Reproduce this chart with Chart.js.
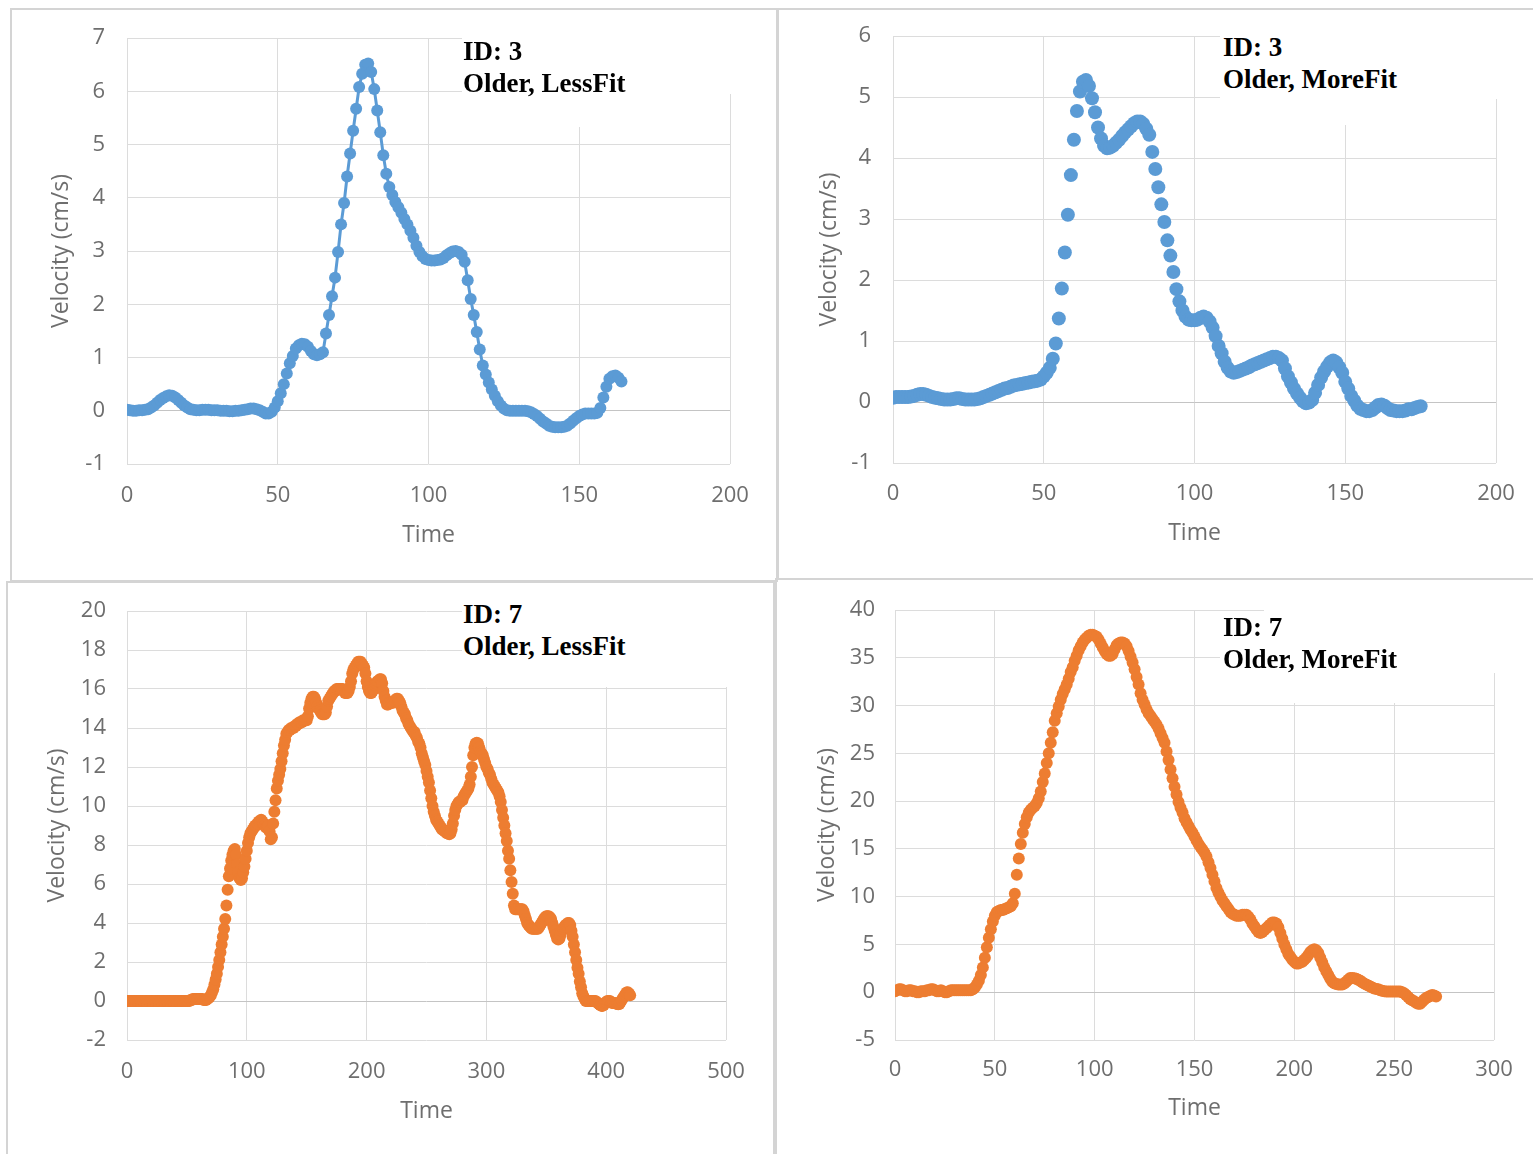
<!DOCTYPE html>
<html>
<head>
<meta charset="utf-8">
<script src="https://cdn.jsdelivr.net/npm/chart.js"></script>
<style>
  html, body { margin: 0; padding: 0; background: #fff; }
  body { position: relative; width: 1533px; height: 1154px; overflow: hidden; }
  .frame { position: absolute; box-sizing: border-box; border: 2px solid #d4d4d4; }
  canvas { position: absolute; }
  .mask { position: absolute; background: #fff; }
  .note { position: absolute; font: bold 27px/32px "Liberation Serif", "Times New Roman", serif; color: #000; white-space: nowrap; }
</style>
</head>
<body>
<div class="frame" style="left:10px;top:8px;width:768px;height:574px"></div>
<div class="frame" style="left:777px;top:8px;width:760px;height:572px"></div>
<div class="frame" style="left:6px;top:581px;width:769px;height:578px"></div>
<div class="frame" style="left:775px;top:578px;width:762px;height:582px"></div>

<canvas id="c1"></canvas>
<canvas id="c2"></canvas>
<canvas id="c3"></canvas>
<canvas id="c4"></canvas>

<div class="mask" style="left:462px;top:25px;width:140px;height:102px"></div>
<div class="mask" style="left:602px;top:25px;width:143px;height:69px"></div>
<div class="mask" style="left:1220px;top:22px;width:140px;height:103px"></div>
<div class="mask" style="left:1360px;top:22px;width:142px;height:77px"></div>
<div class="mask" style="left:462px;top:598px;width:278px;height:89px"></div>
<div class="mask" style="left:1220px;top:616px;width:200px;height:87px"></div>
<div class="mask" style="left:1264px;top:598px;width:240px;height:75px"></div>

<div class="note" style="left:463px;top:35px">ID: 3<br>Older, LessFit</div>
<div class="note" style="left:1223px;top:31px">ID: 3<br>Older, MoreFit</div>
<div class="note" style="left:463px;top:598px">ID: 7<br>Older, LessFit</div>
<div class="note" style="left:1223px;top:611px">ID: 7<br>Older, MoreFit</div>

<script>
// velocity samples, one per time step (time = index)
const velocity3LessFit = [
  0.02, 0.01, 0.0, 0.0, 0.01, 0.01, 0.02, 0.03, 0.06, 0.1,
  0.15, 0.2, 0.24, 0.27, 0.29, 0.28, 0.25, 0.2, 0.15, 0.1,
  0.06, 0.03, 0.02, 0.01, 0.01, 0.02, 0.02, 0.02, 0.01, 0.01,
  0.01, 0.0, 0.0, 0.0, -0.01, -0.01, 0.0, 0.0, 0.01, 0.02,
  0.03, 0.04, 0.04, 0.03, 0.01, -0.02, -0.05, -0.05, -0.02, 0.06,
  0.18, 0.33, 0.5, 0.7, 0.89, 1.03, 1.17, 1.23, 1.26, 1.25,
  1.2, 1.12, 1.06, 1.04, 1.06, 1.1, 1.45, 1.8, 2.15, 2.5,
  2.98, 3.5, 3.9, 4.4, 4.83, 5.26, 5.67, 6.08, 6.33, 6.5,
  6.52, 6.36, 6.04, 5.64, 5.23, 4.8, 4.45, 4.2, 4.05, 3.92,
  3.82, 3.72, 3.6, 3.5, 3.38, 3.25, 3.1, 2.98, 2.9, 2.85,
  2.83, 2.82, 2.82, 2.83, 2.84, 2.87, 2.92, 2.96, 2.99, 3.0,
  2.98, 2.93, 2.8, 2.45, 2.1, 1.8, 1.48, 1.15, 0.85, 0.68,
  0.53, 0.4, 0.28, 0.18, 0.1, 0.04, 0.01, 0.0, 0.0, 0.0,
  0.0, 0.0, 0.0, -0.01, -0.03, -0.06, -0.1, -0.15, -0.2, -0.24,
  -0.28, -0.3, -0.31, -0.31, -0.31, -0.3, -0.28, -0.24, -0.19, -0.14,
  -0.1, -0.07, -0.05, -0.05, -0.05, -0.05, -0.04, 0.05, 0.25, 0.45,
  0.6, 0.65, 0.66, 0.62, 0.55
];

const velocity3MoreFit = [
  0.07, 0.08, 0.08, 0.08, 0.08, 0.08, 0.09, 0.1, 0.12, 0.13,
  0.13, 0.12, 0.1, 0.08, 0.07, 0.06, 0.05, 0.04, 0.04, 0.04,
  0.05, 0.06, 0.06, 0.05, 0.04, 0.04, 0.04, 0.04, 0.05, 0.06,
  0.08, 0.1, 0.12, 0.14, 0.16, 0.18, 0.2, 0.22, 0.23, 0.25,
  0.27, 0.28, 0.29, 0.3, 0.31, 0.32, 0.33, 0.34, 0.35, 0.37,
  0.42, 0.48, 0.56, 0.71, 0.96, 1.37, 1.86, 2.45, 3.07, 3.72,
  4.3, 4.77, 5.09, 5.25, 5.28, 5.18, 4.98, 4.75, 4.5, 4.32,
  4.2, 4.16, 4.17, 4.2, 4.25, 4.3, 4.36, 4.42, 4.47, 4.52,
  4.57, 4.6, 4.6, 4.56, 4.48, 4.38, 4.1, 3.82, 3.52, 3.24,
  2.95, 2.65, 2.4, 2.13, 1.85, 1.65, 1.5, 1.4, 1.35, 1.34,
  1.34, 1.35, 1.38, 1.4, 1.38, 1.32, 1.22, 1.08, 0.92, 0.8,
  0.66, 0.56, 0.5, 0.48, 0.49, 0.51, 0.53, 0.55, 0.57, 0.6,
  0.62, 0.64, 0.66, 0.68, 0.7, 0.72, 0.74, 0.74, 0.72, 0.68,
  0.55, 0.42, 0.32, 0.22, 0.14, 0.07, 0.01, -0.02, -0.01, 0.03,
  0.15, 0.28, 0.4, 0.5, 0.58, 0.65, 0.68, 0.65, 0.57, 0.48,
  0.33, 0.22, 0.1, 0.02, -0.06, -0.11, -0.13, -0.15, -0.15, -0.13,
  -0.09, -0.05, -0.04, -0.06, -0.1, -0.13, -0.14, -0.15, -0.15, -0.15,
  -0.14, -0.12, -0.12, -0.1, -0.08, -0.07
];

const velocity7LessFit = [
  0, 0, 0, 0, 0, 0, 0, 0, 0, 0,
  0, 0, 0, 0, 0, 0, 0, 0, 0, 0,
  0, 0, 0, 0, 0, 0, 0, 0, 0, 0,
  0, 0, 0, 0, 0, 0, 0, 0, 0, 0,
  0, 0, 0, 0, 0, 0, 0, 0, 0, 0,
  0, 0, 0, 0.05, 0.05, 0.1, 0.1, 0.1, 0.1, 0.1,
  0.1, 0.1, 0.1, 0.1, 0.05, 0.05, 0.05, 0.1, 0.15, 0.2,
  0.3, 0.45, 0.6, 0.85, 1.1, 1.4, 1.75, 2.1, 2.5, 2.9,
  3.3, 3.7, 4.2, 4.9, 5.7, 6.4, 6.8, 7.2, 7.5, 7.7,
  7.8, 7.5, 7.0, 6.6, 6.3, 6.2, 6.3, 6.6, 6.9, 7.3,
  7.7, 8.1, 8.4, 8.6, 8.7, 8.8, 8.9, 9.0, 9.0, 9.1,
  9.2, 9.2, 9.3, 9.2, 9.1, 9.0, 8.9, 8.9, 9.0, 8.7,
  8.3, 8.4, 9.1, 9.7, 10.3, 10.9, 11.3, 11.6, 11.9, 12.3,
  12.7, 13.1, 13.4, 13.7, 13.8, 13.9, 13.9, 14.0, 14.0, 14.0,
  14.1, 14.1, 14.2, 14.2, 14.3, 14.3, 14.3, 14.4, 14.4, 14.4,
  14.4, 14.6, 15.0, 15.3, 15.5, 15.6, 15.6, 15.5, 15.3, 15.1,
  15.0, 14.9, 14.8, 14.7, 14.7, 14.7, 14.8, 15.1, 15.4, 15.5,
  15.6, 15.7, 15.8, 15.9, 15.9, 16.0, 16.0, 16.0, 16.0, 16.0,
  16.0, 15.9, 15.8, 15.8, 15.8, 15.9, 16.1, 16.4, 16.8, 17.0,
  17.1, 17.2, 17.3, 17.4, 17.4, 17.4, 17.3, 17.2, 17.1, 16.8,
  16.4, 16.1, 15.9, 15.8, 15.8, 15.9, 16.0, 16.2, 16.3, 16.4,
  16.4, 16.5, 16.5, 16.3, 15.9, 15.6, 15.4, 15.2, 15.2, 15.3,
  15.3, 15.3, 15.3, 15.4, 15.4, 15.5, 15.5, 15.4, 15.3, 15.1,
  14.9, 14.8, 14.7, 14.5, 14.4, 14.2, 14.1, 14.0, 13.9, 13.8,
  13.8, 13.6, 13.5, 13.3, 13.2, 13.0, 12.7, 12.5, 12.3, 12.1,
  11.8, 11.5, 11.2, 10.8, 10.4, 10.0, 9.7, 9.5, 9.3, 9.2,
  9.1, 9.0, 8.9, 8.8, 8.8, 8.7, 8.7, 8.6, 8.6, 8.55,
  8.6, 8.8, 9.1, 9.5, 9.8, 10.0, 10.1, 10.2, 10.2, 10.3,
  10.3, 10.5, 10.6, 10.7, 10.8, 10.9, 11.1, 11.5, 12.0, 12.6,
  13.0, 13.2, 13.25, 13.2, 13.0, 12.8, 12.7, 12.6, 12.4, 12.2,
  12.0, 11.9, 11.7, 11.6, 11.4, 11.2, 11.1, 11.0, 10.9, 10.8,
  10.7, 10.5, 10.2, 9.8, 9.4, 9.0, 8.6, 8.2, 7.7, 7.3,
  6.7, 6.1, 5.5, 4.9, 4.7, 4.7, 4.7, 4.7, 4.7, 4.7,
  4.7, 4.6, 4.4, 4.2, 4.0, 3.9, 3.85, 3.75, 3.7, 3.7,
  3.7, 3.7, 3.7, 3.7, 3.8, 3.9, 4.0, 4.1, 4.2, 4.3,
  4.35, 4.35, 4.35, 4.3, 4.2, 4.0, 3.8, 3.6, 3.4, 3.2,
  3.15, 3.2, 3.4, 3.6, 3.7, 3.8, 3.9, 3.9, 4.0, 4.0,
  3.9, 3.6, 3.3, 2.9, 2.5, 2.1, 1.7, 1.4, 1.0, 0.7,
  0.4, 0.25, 0.1, 0, 0, 0, 0, 0, 0, 0,
  0, 0, -0.05, -0.1, -0.15, -0.2, -0.25, -0.25, -0.2, -0.1,
  -0.05, 0, 0, 0, -0.05, -0.1, -0.1, -0.1, -0.12, -0.15,
  -0.17, -0.15, -0.05, 0.05, 0.15, 0.25, 0.35, 0.43, 0.45, 0.38,
  0.3
];

const velocity7MoreFit = [
  0.1, 0.2, 0.3, 0.3, 0.2, 0.1, 0.1, 0.2, 0.2, 0.1,
  0.1, 0.0, 0.0, 0.1, 0.1, 0.1, 0.2, 0.2, 0.3, 0.3,
  0.2, 0.1, 0.1, 0.2, 0.1, 0.0, 0.0, 0.1, 0.2, 0.2,
  0.2, 0.2, 0.2, 0.2, 0.2, 0.2, 0.2, 0.2, 0.2, 0.3,
  0.5, 0.8, 1.2, 1.8, 2.6, 3.6, 4.7, 5.7, 6.6, 7.4,
  8.0, 8.4, 8.5, 8.6, 8.6, 8.7, 8.8, 8.9, 9.0, 9.3,
  10.3, 12.3, 14.0, 15.5, 16.7, 17.6, 18.3, 18.8, 19.1, 19.3,
  19.5, 19.8, 20.3, 21.0, 22.0, 22.9, 24.0, 25.0, 26.1, 27.2,
  28.4, 29.2, 29.9, 30.6, 31.2, 31.7, 32.2, 32.8, 33.5, 34.0,
  34.7, 35.2, 35.8, 36.2, 36.6, 36.9, 37.1, 37.3, 37.4, 37.4,
  37.3, 37.2, 36.9, 36.5, 36.1, 35.7, 35.4, 35.2, 35.2, 35.4,
  35.9, 36.3, 36.5, 36.6, 36.6, 36.5, 36.2, 35.7, 35.1, 34.5,
  33.8, 33.0, 32.2, 31.3, 30.6, 30.1, 29.6, 29.2, 28.9, 28.6,
  28.3, 28.0, 27.6, 27.1, 26.6, 26.1, 25.2, 24.3, 23.3, 22.4,
  21.5, 20.7, 19.9, 19.3, 18.8, 18.2, 17.8, 17.4, 17.0, 16.7,
  16.3, 15.9, 15.5, 15.2, 14.9, 14.6, 14.2, 13.6, 13.0, 12.3,
  11.6, 10.9, 10.4, 10.0, 9.6, 9.3, 9.0, 8.7, 8.4, 8.2,
  8.1, 8.0, 8.0, 8.0, 8.1, 8.1, 8.1, 7.9, 7.6, 7.2,
  6.9, 6.6, 6.3, 6.2, 6.3, 6.5, 6.7, 6.9, 7.1, 7.3,
  7.3, 7.2, 6.8, 6.2, 5.6, 5.0, 4.5, 4.0, 3.7, 3.4,
  3.2, 3.0, 3.0, 3.1, 3.2, 3.4, 3.6, 3.9, 4.2, 4.4,
  4.5, 4.4, 4.1, 3.6, 3.1, 2.6, 2.2, 1.8, 1.4, 1.1,
  0.95, 0.85, 0.8, 0.8, 0.8, 0.9, 1.1, 1.3, 1.5, 1.5,
  1.45, 1.4, 1.3, 1.2, 1.05, 0.9, 0.8, 0.7, 0.6, 0.5,
  0.4, 0.35, 0.3, 0.2, 0.15, 0.1, 0.07, 0.07, 0.07, 0.07,
  0.07, 0.07, 0.07, 0.07, 0.0, -0.1, -0.3, -0.5, -0.7, -0.85,
  -0.95, -1.1, -1.2, -1.2, -1.0, -0.8, -0.6, -0.5, -0.4, -0.3,
  -0.35, -0.45
];

// axis ranges: [min, max, step]
const timeAxis3 = [0, 200, 50];
const timeAxis7LessFit = [0, 500, 100];
const timeAxis7MoreFit = [0, 300, 50];
const velAxis3LessFit = [-1, 7, 1];
const velAxis3MoreFit = [-1, 6, 1];
const velAxis7LessFit = [-2, 20, 2];
const velAxis7MoreFit = [-5, 40, 5];

const BLUE = "#5b9bd5";
const ORANGE = "#ed7d31";
const tickFont = { family: "'Open Sans', sans-serif", size: 22 };
const titleFont = { family: "'Open Sans', sans-serif", size: 23 };
const tickColor = "#6e6e6e";
const gridColor = "#dcdcdc";

const panels = [
  { id: "c1", box: [10, 8, 767, 572], pad: { left: 38, top: 30, right: 47, bottom: 31 },
    yWidth: 79, xHeight: 85, xTickPad: 19, yTickPad: 22,
    xAxis: timeAxis3, yAxis: velAxis3LessFit, values: velocity3LessFit, color: BLUE, radius: 6, line: true },
  { id: "c2", box: [778, 8, 755, 570], pad: { left: 38, top: 28, right: 37, bottom: 31 },
    yWidth: 77, xHeight: 84, xTickPad: 18, yTickPad: 22,
    xAxis: timeAxis3, yAxis: velAxis3MoreFit, values: velocity3MoreFit, color: BLUE, radius: 7, line: false },
  { id: "c3", box: [6, 583, 767, 571], pad: { left: 38, top: 28, right: 47, bottom: 29 },
    yWidth: 83, xHeight: 85, xTickPad: 19, yTickPad: 21,
    xAxis: timeAxis7LessFit, yAxis: velAxis7LessFit, values: velocity7LessFit, color: ORANGE, radius: 6, line: false },
  { id: "c4", box: [776, 580, 757, 574], pad: { left: 38, top: 30, right: 39, bottom: 32 },
    yWidth: 81, xHeight: 82, xTickPad: 17, yTickPad: 20,
    xAxis: timeAxis7MoreFit, yAxis: velAxis7MoreFit, values: velocity7MoreFit, color: ORANGE, radius: 6, line: false },
];

function renderPanel(p) {
  const canvas = document.getElementById(p.id);
  const [left, top, w, h] = p.box;
  canvas.style.left = left + "px";
  canvas.style.top = top + "px";
  canvas.width = w;
  canvas.height = h;
  canvas.style.width = w + "px";
  canvas.style.height = h + "px";

  new Chart(canvas, {
    type: "scatter",
    data: {
      datasets: [{
        data: p.values.map((v, i) => ({ x: i, y: v })),
        showLine: p.line,
        borderColor: p.color,
        borderWidth: 3,
        backgroundColor: p.color,
        pointRadius: p.radius,
        pointBorderWidth: 0,
        pointHoverRadius: p.radius,
      }],
    },
    options: {
      responsive: false,
      animation: false,
      devicePixelRatio: 1,
      layout: { padding: p.pad },
      plugins: { legend: { display: false }, tooltip: { enabled: false } },
      scales: {
        x: {
          type: "linear",
          min: p.xAxis[0], max: p.xAxis[1],
          ticks: { stepSize: p.xAxis[2], padding: p.xTickPad, color: tickColor, font: tickFont, maxRotation: 0 },
          grid: { color: gridColor, drawTicks: false },
          border: { display: false },
          title: { display: true, text: "Time", color: tickColor, font: titleFont, padding: 0 },
          afterFit: s => { s.height = p.xHeight; },
        },
        y: {
          min: p.yAxis[0], max: p.yAxis[1],
          ticks: { stepSize: p.yAxis[2], padding: p.yTickPad, color: tickColor, font: tickFont },
          grid: {
            color: c => (c.tick && c.tick.value === 0 ? "#c4c4c4" : gridColor),
            drawTicks: false,
          },
          border: { display: false },
          title: { display: true, text: "Velocity (cm/s)", color: tickColor, font: titleFont, padding: 0 },
          // fixed width, and no label overhang so the plot top sits on the layout padding
          afterFit: s => { s.width = p.yWidth; s.paddingTop = 0; s.paddingBottom = 0; },
        },
      },
    },
  });
}

panels.forEach(renderPanel);
</script>
</body>
</html>
